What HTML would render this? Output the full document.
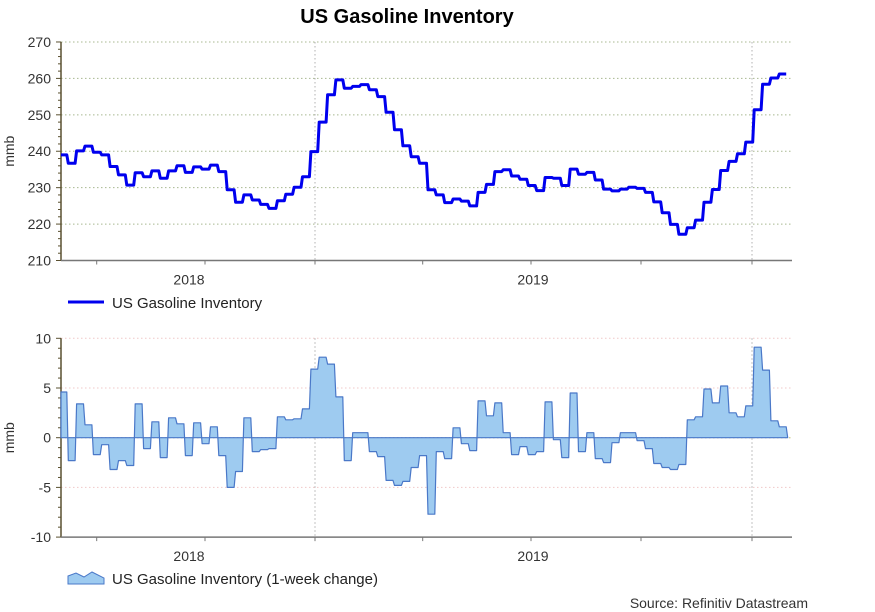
<!DOCTYPE html>
<html><head><meta charset="utf-8"><style>
body{margin:0;background:#fff;}
svg{display:block;font-family:"Liberation Sans",Arial,sans-serif;}
</style></head><body>
<svg id="c" width="875" height="612" viewBox="0 0 875 612">
<text x="407" y="23" text-anchor="middle" font-size="20" font-weight="bold" fill="#000">US Gasoline Inventory</text>
<g id="topPanel"></g>
<g id="botPanel"></g>
<g>
<line x1="68" y1="302" x2="104" y2="302" stroke="#0000ee" stroke-width="3"/>
<text x="112" y="308" font-size="15" fill="#222">US Gasoline Inventory</text>
</g>
<g>
<path d="M68,584 L68,576 L76,573 L84,577 L92,572 L104,578 L104,584 Z" fill="#9ecbf0" stroke="#4a78c8"/>
<text x="112" y="584" font-size="15" fill="#222">US Gasoline Inventory (1-week change)</text>
</g>
<text x="808" y="608" text-anchor="end" font-size="14" fill="#333">Source: Refinitiv Datastream</text>
</svg>
<script>
const inventory=[239.0,236.7,240.1,241.4,239.7,239.0,235.8,233.5,230.7,234.1,
233.0,234.6,232.6,234.6,236.0,234.2,235.7,235.1,236.2,234.4,
229.4,226.0,228.0,226.6,225.4,224.3,226.4,228.2,230.1,233.0,
239.9,248.0,255.5,259.6,257.3,257.8,258.3,256.9,255.0,250.7,
245.9,241.5,238.5,236.7,229.4,228.0,225.9,226.9,226.3,225.0,
228.7,230.9,234.4,234.9,233.2,232.3,230.6,229.2,232.8,232.6,
230.6,235.1,233.7,234.2,232.1,229.6,229.1,229.6,230.1,229.8,
228.7,226.1,223.1,219.9,217.2,219.0,221.1,226.0,229.5,234.7,
237.2,239.3,242.5,251.4,258.4,260.1,261.2];
const weeklyChange=[4.6,-2.3,3.4,1.3,-1.7,-0.7,-3.2,-2.3,-2.8,3.4,
-1.1,1.6,-2.0,2.0,1.4,-1.8,1.5,-0.6,1.1,-1.8,
-5.0,-3.4,2.0,-1.4,-1.2,-1.1,2.1,1.8,1.9,2.9,
6.9,8.1,7.4,4.1,-2.3,0.5,0.5,-1.4,-1.9,-4.3,
-4.8,-4.4,-3.0,-1.8,-7.7,-1.4,-2.1,1.0,-0.6,-1.3,
3.7,2.2,3.5,0.5,-1.7,-0.9,-1.7,-1.4,3.6,-0.2,
-2.0,4.5,-1.4,0.5,-2.1,-2.5,-0.5,0.5,0.5,-0.3,
-1.1,-2.6,-3.0,-3.2,-2.7,1.8,2.1,4.9,3.5,5.2,
2.5,2.1,3.2,9.1,6.8,1.7,1.1];
const topTicks=[210,220,230,240,250,260,270];
const botTicks=[-10,-5,0,5,10];
const yearLabels=["2018","2019"];

const NS="http://www.w3.org/2000/svg";
const X0=61,X1=792;
function xw(i){return 59.9+i*8.365;}
function clampX(x){return Math.max(X0,Math.min(X1,x));}
function yTop(v){return 260.5-(v-210)*3.642;}
function yBot(v){return 437.7-v*9.94;}
function mk(p,tag,attrs){const e=document.createElementNS(NS,tag);for(const k in attrs)e.setAttribute(k,attrs[k]);p.appendChild(e);return e;}
const topG=document.getElementById('topPanel'),botG=document.getElementById('botPanel');
const qTicks=[96.7,205,315,422.7,531,641,752];
const vGrid=[315,752];
const yearX=[189,533];

function frame(g,ticks,yf,yBottom,minorStep,name,gridColor,lo,hi){
  ticks.forEach(t=>{
    if(t===lo) return;
    let l=mk(g,'line',{x1:X0,x2:X1,y1:yf(t),y2:yf(t),stroke:gridColor,'stroke-dasharray':'1.5,2.5','stroke-width':1});
    
    
  });
  vGrid.forEach(x=>{
    let l=mk(g,'line',{x1:x,x2:x,y1:yf(hi),y2:yBottom,stroke:'#b0b0b0','stroke-dasharray':'1.5,2.5'});
    
    
  });
  for(let v=lo;v<=hi+0.001;v+=minorStep){
    let major=ticks.indexOf(Math.round(v))>=0&&Math.abs(v-Math.round(v))<0.01;
    let l=mk(g,'line',{x1:X0-(major?5:3),x2:X0,y1:yf(v),y2:yf(v),stroke:'#5a5030'});
    
    
  }
  ticks.forEach(t=>{
    let tx=mk(g,'text',{x:51,y:yf(t)+5,'text-anchor':'end','font-size':14,fill:'#333'});
    tx.textContent=t;
    
    
  });
  let ax=mk(g,'line',{x1:X0,x2:X0,y1:yf(hi),y2:yBottom,stroke:'#5a5030','stroke-width':1.5});
  
  
  let bx=mk(g,'line',{x1:X0,x2:X1,y1:yBottom,y2:yBottom,stroke:'#777','stroke-width':1.5});
  
  
  qTicks.forEach(x=>{
    let l=mk(g,'line',{x1:x,x2:x,y1:yBottom,y2:yBottom+4,stroke:'#777'});
    
    
  });
  yearLabels.forEach((s,i)=>{
    let tx=mk(g,'text',{x:yearX[i],y:yBottom+24,'text-anchor':'middle','font-size':14,fill:'#333'});
    tx.textContent=s;
    
    
  });
  let yt=mk(g,'text',{x:0,y:0,'font-size':14,fill:'#333','text-anchor':'middle',transform:'translate(14,'+((yf(hi)+yBottom)/2)+') rotate(-90)'});
  yt.textContent='mmb';
  
  
}
frame(topG,topTicks,yTop,260.5,2,'top','#a8b890',210,270);
frame(botG,botTicks,yBot,537.1,1,'bottom','#f0c8c8',-10,10);
let z=mk(botG,'line',{x1:X0,x2:X1,y1:yBot(0),y2:yBot(0),stroke:'#c8d080','stroke-dasharray':'1.5,2.5'});



let pts=[];
inventory.forEach((v,i)=>{
  const xa=clampX(xw(i)), xb=clampX(xw(i+1)-1.5);
  const y=yTop(v);
  pts.push(xa.toFixed(1)+','+y.toFixed(1));
  pts.push(xb.toFixed(1)+','+y.toFixed(1));
});
let pl=mk(topG,'polyline',{points:pts.join(' '),fill:'none',stroke:'#0000ee','stroke-width':3,'stroke-linejoin':'round'});



let d='M'+X0+','+yBot(0).toFixed(1);
weeklyChange.forEach((v,i)=>{
  const xa=clampX(xw(i)), xb=clampX(xw(i+1)-1.5);
  const y=yBot(v).toFixed(1);
  d+=' L'+xa.toFixed(1)+','+y+' L'+xb.toFixed(1)+','+y;
});
d+=' L'+clampX(xw(weeklyChange.length)).toFixed(1)+','+yBot(0).toFixed(1)+' Z';
let ar=mk(botG,'path',{d:d,fill:'#9ecbf0',stroke:'#4a78c8','stroke-width':1.2,'stroke-linejoin':'round'});


</script>
</body></html>
